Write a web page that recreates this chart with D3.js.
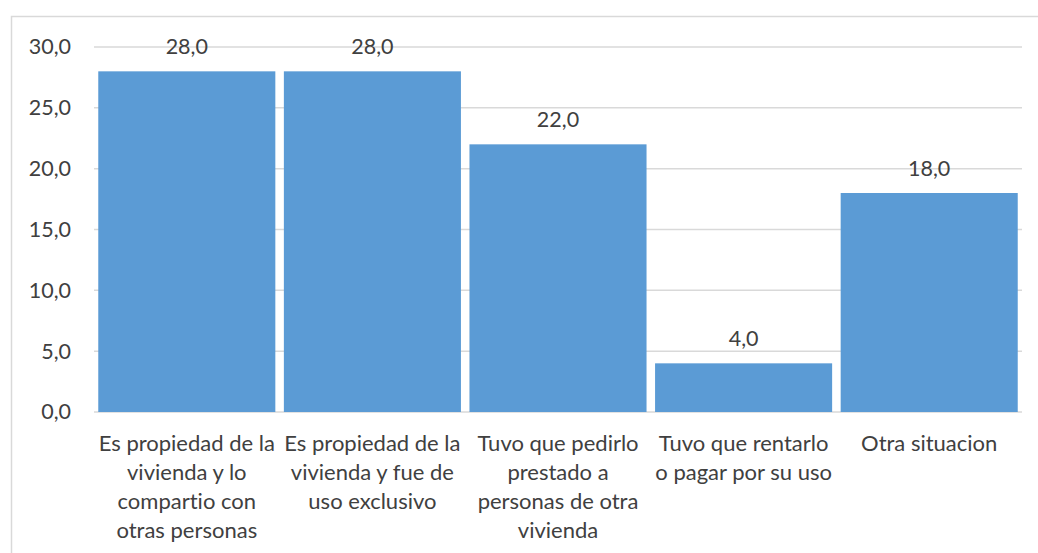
<!DOCTYPE html>
<html>
<head>
<meta charset="utf-8">
<script src="https://cdn.jsdelivr.net/npm/d3@7"></script>
<style>
  html, body { margin: 0; padding: 0; background: #fff; }
  svg { display: block; }
  text { font-family: Lato, "Open Sans", sans-serif; fill: #404040; font-variant-ligatures: none; }
</style>
</head>
<body>
<svg id="chart" width="1038" height="553"></svg>
<script>
const categories = [
  "Es propiedad de la vivienda y lo compartio con otras personas",
  "Es propiedad de la vivienda y fue de uso exclusivo",
  "Tuvo que pedirlo prestado a personas de otra vivienda",
  "Tuvo que rentarlo o pagar por su uso",
  "Otra situacion"
];
const categoryLines = [
  ["Es propiedad de la", "vivienda y lo", "compartio con", "otras personas"],
  ["Es propiedad de la", "vivienda y fue de", "uso exclusivo"],
  ["Tuvo que pedirlo", "prestado a", "personas de otra", "vivienda"],
  ["Tuvo que rentarlo", "o pagar por su uso"],
  ["Otra situacion"]
];
const values = [28.0, 28.0, 22.0, 4.0, 18.0];
const yTicks = [0, 5, 10, 15, 20, 25, 30];

const fmt = v => v.toFixed(1).replace(".", ",");

const svg = d3.select("#chart");
const W = 1038, H = 553;
const m = { left: 94, right: 16, top: 47, bottom: 141 };

// chart-area border
svg.append("rect")
  .attr("x", 11.5).attr("y", 16.5)
  .attr("width", W).attr("height", H)
  .attr("fill", "none").attr("stroke", "#d9d9d9").attr("stroke-width", 1.5);

const x = d3.scaleBand().domain(categories)
  .range([m.left, W - m.right]).paddingInner(0.046).paddingOuter(0.023);
const y = d3.scaleLinear().domain([0, 30]).range([H - m.bottom, m.top]);

// gridlines
svg.append("g").selectAll("line").data(yTicks).join("line")
  .attr("x1", m.left).attr("x2", W - m.right)
  .attr("y1", d => y(d)).attr("y2", d => y(d))
  .attr("stroke", "#d9d9d9").attr("stroke-width", 1.5);

// y axis labels
const yAxis = d3.axisLeft(y).tickValues(yTicks).tickFormat(fmt).tickSize(0).tickPadding(23);
const gy = svg.append("g").attr("transform", `translate(${m.left},0)`).call(yAxis);
gy.select(".domain").remove();
gy.selectAll("text").attr("font-size", 21.5).attr("font-family", "Lato").attr("fill", "#404040");

// bars
svg.append("g").selectAll("rect").data(values).join("rect")
  .attr("x", (d, i) => x(categories[i]))
  .attr("width", x.bandwidth())
  .attr("y", d => y(d))
  .attr("height", d => y(0) - y(d))
  .attr("fill", "#5b9bd5");

// value labels
svg.append("g").selectAll("text").data(values).join("text")
  .attr("x", (d, i) => x(categories[i]) + x.bandwidth() / 2)
  .attr("y", d => y(d) - 17)
  .attr("text-anchor", "middle")
  .attr("font-size", 21.5)
  .text(fmt);

// category labels
const xAxis = d3.axisBottom(x).tickSize(0).tickFormat("");
const gx = svg.append("g").attr("transform", `translate(0,${y(0)})`).call(xAxis);
gx.select(".domain").remove();
gx.selectAll(".tick").each(function(d, i) {
  const t = d3.select(this).append("text")
    .attr("text-anchor", "middle")
    .attr("font-size", 22)
    .attr("fill", "#404040")
    .attr("font-family", "Lato");
  categoryLines[i].forEach((ln, k) => {
    t.append("tspan").attr("x", 0).attr("y", 39 + k * 29).text(ln);
  });
});
</script>
</body>
</html>
